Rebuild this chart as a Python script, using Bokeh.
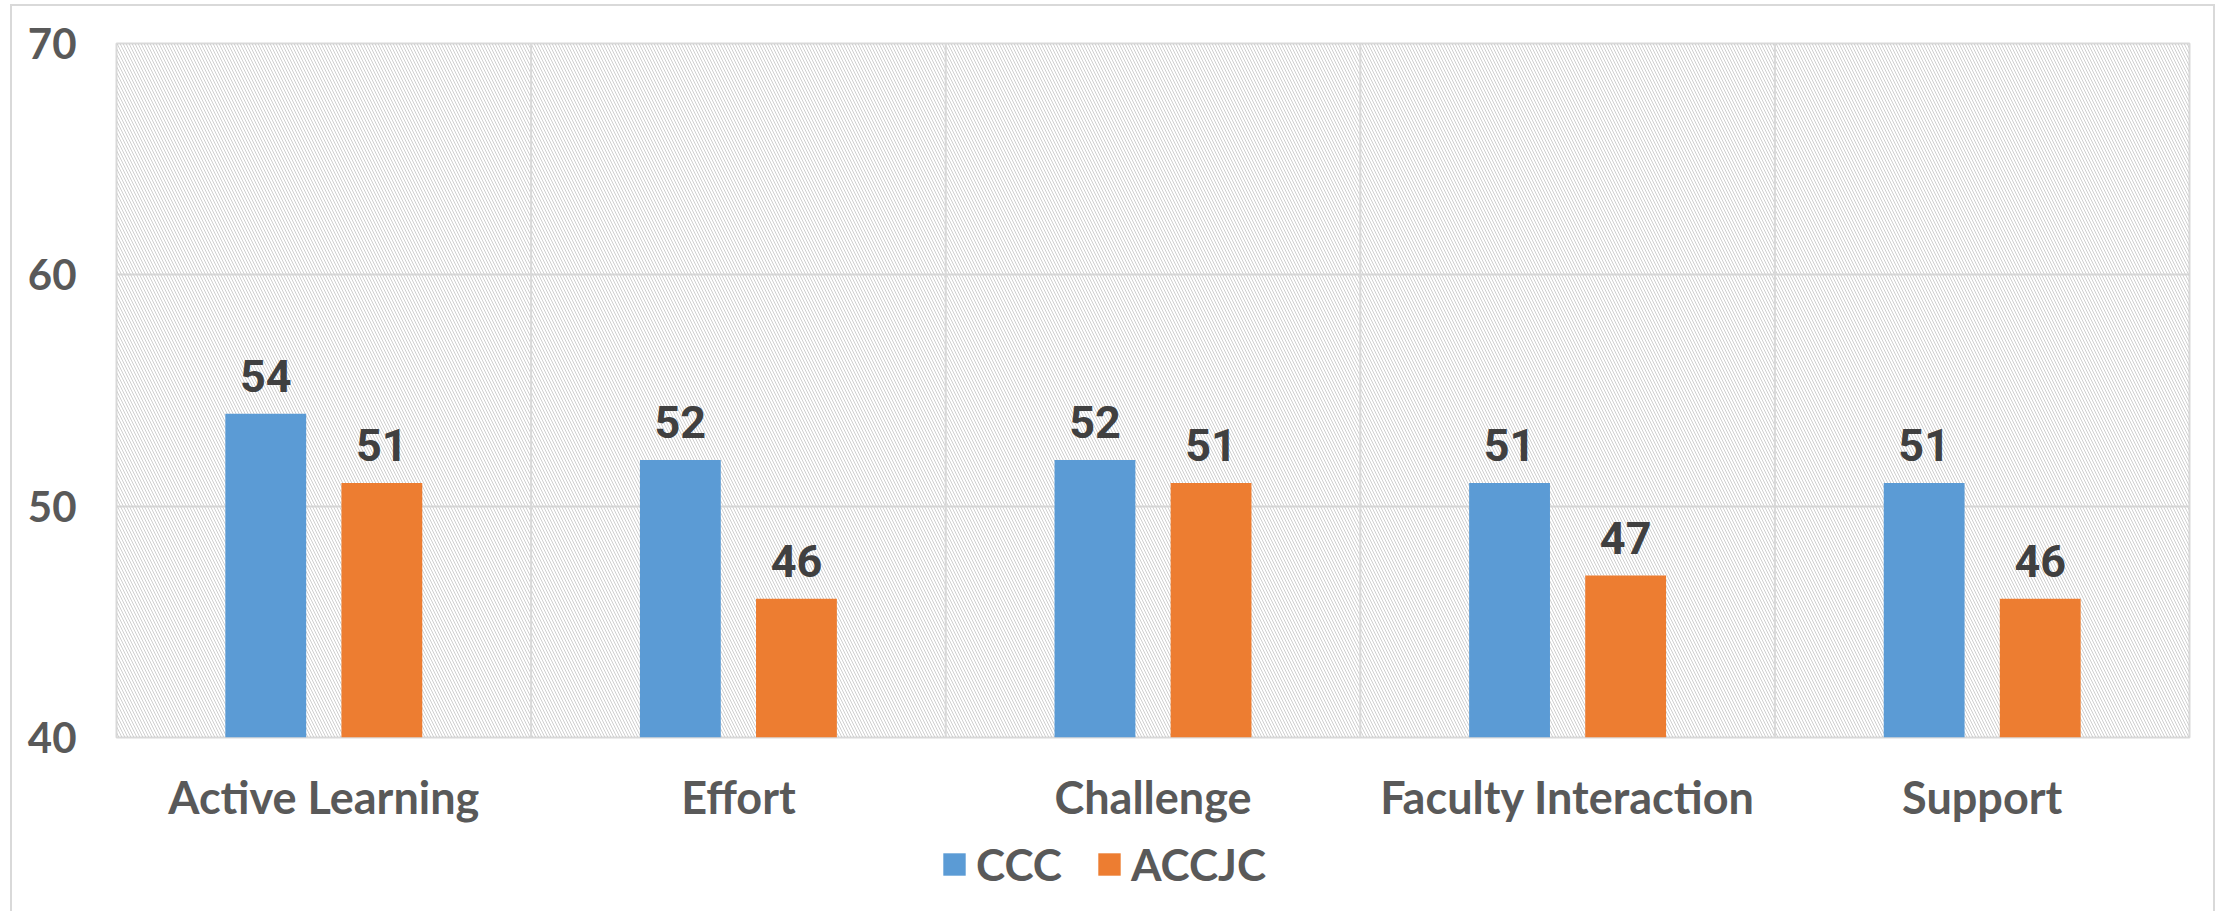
from bokeh.plotting import figure
from bokeh.layouts import column
from bokeh.models import ColumnDataSource, FactorRange, Range1d, BoxAnnotation, Span, LabelSet, Legend, LegendItem, FixedTicker
from bokeh.transform import dodge
from bokeh.core.properties import value
from bokeh.embed import file_html
from bokeh.resources import INLINE

categories = ["Active Learning", "Effort", "Challenge", "Faculty Interaction", "Support"]
ccc = [54, 52, 52, 51, 51]
accjc = [51, 46, 51, 47, 46]
series_names = ["CCC", "ACCJC"]
y_ticks = [40, 50, 60, 70]

BLUE = "#5b9bd5"
ORANGE = "#ed7d31"
TEXT = "#595959"
LABEL = "#404040"
GRID = "#d9d9d9"
FONT = "Lato"
BORDER = "2px solid #d9d9d9"

src = ColumnDataSource(dict(cat=categories, ccc=ccc, accjc=accjc))

p = figure(x_range=FactorRange(*categories), y_range=Range1d(40, 70),
           width=2205, height=829, output_backend="svg", toolbar_location=None,
           min_border_left=104, min_border_right=28, min_border_top=37, min_border_bottom=98)
p.styles = {"border-top": BORDER, "border-left": BORDER, "border-right": BORDER,
            "margin-left": "10px", "margin-top": "4px"}

# hatched background
p.add_layout(BoxAnnotation(fill_color=None, line_color=None, hatch_pattern="\\",
                           hatch_color="#cfcfcf", hatch_scale=6, hatch_weight=1, level="underlay"))

p.outline_line_color = GRID
p.outline_line_width = 2
p.ygrid.grid_line_color = GRID
p.ygrid.grid_line_width = 2
p.xgrid.grid_line_color = None
for i in range(1, len(categories)):
    p.add_layout(Span(location=i, dimension="height", line_color=GRID, line_width=2, level="underlay"))

b1 = p.vbar(x=dodge("cat", -0.14, range=p.x_range), top="ccc", bottom=40, width=0.195, source=src,
            fill_color=BLUE, line_color=None)
b2 = p.vbar(x=dodge("cat", 0.14, range=p.x_range), top="accjc", bottom=40, width=0.195, source=src,
            fill_color=ORANGE, line_color=None)

for col, off in (("ccc", -0.14), ("accjc", 0.14)):
    p.add_layout(LabelSet(x=dodge("cat", off, range=p.x_range), y=col, text=col, source=src,
                          y_offset=22, text_align="center", text_baseline="bottom",
                          text_font=value("Roboto"), text_font_style="bold",
                          text_font_size="45px", text_color=LABEL))

p.yaxis.ticker = FixedTicker(ticks=y_ticks)
p.yaxis.axis_line_color = None
p.yaxis.major_tick_line_color = None
p.yaxis.minor_tick_line_color = None
p.yaxis.major_tick_out = 0
p.yaxis.major_label_text_font = FONT
p.yaxis.major_label_text_font_style = "bold"
p.yaxis.major_label_text_font_size = "42px"
p.yaxis.major_label_text_color = TEXT
p.yaxis.major_label_standoff = 40

p.xaxis.axis_line_color = None
p.xaxis.major_tick_line_color = None
p.xaxis.major_tick_out = 0
p.xaxis.major_label_text_font = FONT
p.xaxis.major_label_text_font_style = "bold"
p.xaxis.major_label_text_font_size = "45px"
p.xaxis.major_label_text_color = TEXT
p.xaxis.major_label_standoff = 32

# legend strip below the chart (frame aligned with the chart's frame by the column layout)
p2 = figure(width=2205, height=78, output_backend="svg", toolbar_location=None,
            x_range=FactorRange(*categories), y_range=Range1d(0, 1),
            x_axis_location=None, y_axis_location=None,
            min_border_left=0, min_border_right=0, min_border_top=0, min_border_bottom=0)
p2.styles = {"border-left": BORDER, "border-right": BORDER, "margin-left": "10px"}
p2.outline_line_color = None
p2.grid.visible = False
# legend proxies: zero-size bars lying above this strip's visible range
l1 = p2.vbar(x="cat", top="ccc", bottom="ccc", width=0, source=src, fill_color=BLUE, line_color=None)
l2 = p2.vbar(x="cat", top="accjc", bottom="accjc", width=0, source=src, fill_color=ORANGE, line_color=None)

legend = Legend(items=[LegendItem(label=series_names[0], renderers=[l1]),
                       LegendItem(label=series_names[1], renderers=[l2])],
                orientation="horizontal", location=(824, 21),
                label_text_font=FONT, label_text_font_style="bold", label_text_font_size="44px",
                label_text_color=TEXT, glyph_width=28, glyph_height=28, label_standoff=8,
                spacing=33, border_line_color=None, background_fill_alpha=0, padding=0, margin=0)
p2.add_layout(legend, "center")

layout = column(p, p2, spacing=0)
open("out.html", "w").write(file_html(layout, INLINE))
